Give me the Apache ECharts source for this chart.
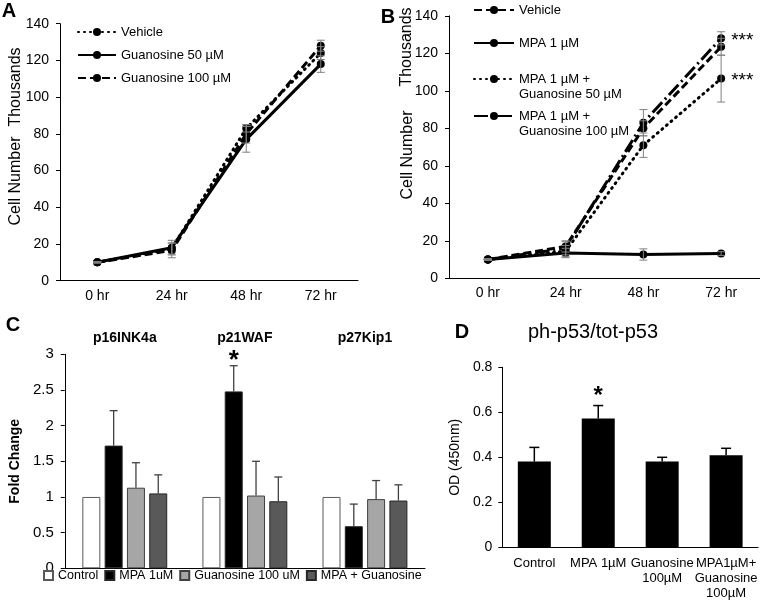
<!DOCTYPE html>
<html>
<head>
<meta charset="utf-8">
<script src="https://cdn.jsdelivr.net/npm/echarts@6/dist/echarts.min.js"></script>
<style>
  body { margin: 0; background: #fff; }
  #wrap { position: relative; width: 760px; height: 601px; overflow: hidden; }
  .panel { position: absolute; }
</style>
</head>
<body>
<div id="wrap">
  <div id="chartA" class="panel" style="left:0;top:0;width:380px;height:310px"></div>
  <div id="chartB" class="panel" style="left:380px;top:0;width:380px;height:310px"></div>
  <div id="chartC" class="panel" style="left:0;top:310px;width:440px;height:291px"></div>
  <div id="chartD" class="panel" style="left:440px;top:310px;width:320px;height:291px"></div>
</div>
<script>
var FONT = '"Liberation Sans", Arial, sans-serif';

/* A, B: time points */
var hours = ['0 hr', '24 hr', '48 hr', '72 hr'];

/* A: cell number (thousands) */
var vehA = [10, 17.5, 83, 124];
var vehAErr = [0.3, 3, 2, 3.5];
var guan50A = [10, 18, 77, 118];
var guan50AErr = [0.3, 4, 7, 4.5];
var guan100A = [10, 16.5, 80, 128];
var guan100AErr = [0.3, 4, 5, 3];

/* B: cell number (thousands) */
var vehB = [10, 17, 80, 123.5];
var vehBErr = [0.3, 3, 4, 4.5];
var mpaB = [10, 13.5, 12.7, 13.2];
var mpaBErr = [0.3, 2.5, 3, 1];
var mpaG50B = [10, 14.5, 71, 106.5];
var mpaG50BErr = [0.3, 3, 6.5, 12.5];
var mpaG100B = [10, 16, 83, 128];
var mpaG100BErr = [0.3, 3.5, 7, 3.5];

/* C: fold change */
var genes = ['p16INK4a', 'p21WAF', 'p27Kip1'];
var cControl = [1, 1, 1];
var cMPA = [1.72, 2.48, 0.59];
var cMPAErr = [0.49, 0.36, 0.31];
var cGuan = [1.13, 1.02, 0.97];
var cGuanErr = [0.35, 0.48, 0.26];
var cBoth = [1.05, 0.94, 0.95];
var cBothErr = [0.26, 0.34, 0.22];

/* D: ph-p53/tot-p53 */
var dGroups = ['Control', 'MPA 1µM', 'Guanosine\n100µM', 'MPA1µM+\nGuanosine\n100µM'];
var dOD = [0.381, 0.572, 0.381, 0.409];
var dODErr = [0.063, 0.058, 0.019, 0.031];

/* 误差线(custom系列) */
function errorSeries(means, errs, opt) {
  return {
    type: 'custom',
    silent: true,
    z: opt.z || 5,
    encode: { x: 0, y: 1 },
    renderItem: function (params, api) {
      var i = api.value(0), m = api.value(1), e = api.value(2);
      var c = api.coord([i, m]);
      var hi = api.coord([i, m + e]);
      var lo = opt.both ? api.coord([i, m - e]) : c;
      var x = c[0] + (opt.offset || 0), w = opt.cap;
      function st() { return { stroke: opt.color, lineWidth: opt.width }; }
      var kids = [
        { type: 'line', shape: { x1: x, y1: hi[1], x2: x, y2: lo[1] }, style: st() },
        { type: 'line', shape: { x1: x - w, y1: hi[1], x2: x + w, y2: hi[1] }, style: st() }
      ];
      if (opt.both) {
        kids.push({ type: 'line', shape: { x1: x - w, y1: lo[1], x2: x + w, y2: lo[1] }, style: st() });
      }
      return { type: 'group', children: kids };
    },
    data: means.map(function (m, i) { return [i, m, errs[i]]; })
  };
}

/* 折线系列 */
function lineSeries(name, data, dash, cap, starAt) {
  return {
    name: name,
    type: 'line',
    z: 3,
    symbol: 'circle',
    symbolSize: 8,
    itemStyle: { color: '#000' },
    lineStyle: { color: '#000', width: 3, type: dash, cap: cap || 'butt' },
    data: data.map(function (v, i) {
      if (i === starAt) {
        return { value: v, label: { show: true, position: 'right', distance: 6, offset: [0, 2],
          formatter: '***', fontSize: 19, color: '#000', fontFamily: FONT } };
      }
      return v;
    })
  };
}

/* 每个图例单独定位, centerY为图标中心 */
function legendItem(name, left, centerY, width) {
  var lines = name.split('\n').length;
  return {
    left: left, top: centerY - (lines > 1 ? 22.5 : 7.5), padding: 0,
    itemWidth: width, itemHeight: 10,
    textStyle: { color: '#000', fontSize: 13, fontFamily: FONT, lineHeight: 15 },
    formatter: function (n) { return lines > 1 ? ' \n' + n : n; },
    data: [name]
  };
}

function txt(x, y, text, size, bold, rot) {
  return { type: 'text', x: x, y: y, rotation: rot || 0, silent: true,
    style: { text: text, fontSize: size, fontWeight: bold ? 'bold' : 'normal', fontFamily: FONT,
      fill: '#000', align: 'center', verticalAlign: 'middle' } };
}

function timeAxis() {
  return {
    type: 'category', data: hours, boundaryGap: true,
    axisLine: { lineStyle: { color: '#000', width: 1 } },
    axisTick: { show: false },
    axisLabel: { color: '#000', fontSize: 14, fontFamily: FONT, margin: 8 }
  };
}

function valueAxis(max, step, size, margin) {
  return {
    type: 'value', min: 0, max: max, interval: step,
    splitLine: { show: false },
    axisLine: { show: true, lineStyle: { color: '#000', width: 1 } },
    axisTick: { show: true, length: 4, lineStyle: { color: '#000' } },
    axisLabel: { color: '#000', fontSize: size, fontFamily: FONT, margin: margin }
  };
}

/* ---------- A ---------- */
var namesA = ['Vehicle', 'Guanosine 50 µM', 'Guanosine 100 µM'];
var legendYA = [32, 55, 78];
var chartA = echarts.init(document.getElementById('chartA'));
chartA.setOption({
  animation: false,
  grid: { left: 60, top: 23.7, width: 298, height: 257 },
  xAxis: timeAxis(),
  yAxis: valueAxis(140, 20, 14, 11),
  legend: namesA.map(function (n, i) { return legendItem(n, 77, legendYA[i], 38); }),
  graphic: [
    txt(9, 11, 'A', 20, true),
    txt(16, 87, 'Thousands', 16, false, Math.PI / 2),
    txt(16, 181, 'Cell Number', 16, false, Math.PI / 2)
  ],
  series: [
    lineSeries(namesA[0], vehA, [1, 5], 'round'),
    lineSeries(namesA[1], guan50A, 'solid'),
    lineSeries(namesA[2], guan100A, [8, 4]),
    errorSeries(vehA, vehAErr, { both: true, cap: 4, color: '#808080', width: 1 }),
    errorSeries(guan50A, guan50AErr, { both: true, cap: 4, color: '#808080', width: 1 }),
    errorSeries(guan100A, guan100AErr, { both: true, cap: 4, color: '#808080', width: 1 })
  ]
});

/* ---------- B ---------- */
var namesB = ['Vehicle', 'MPA 1 µM', 'MPA 1 µM +\nGuanosine 50 µM', 'MPA 1 µM +\nGuanosine 100 µM'];
var legendYB = [10, 43, 79, 116];
var chartB = echarts.init(document.getElementById('chartB'));
chartB.setOption({
  animation: false,
  grid: { left: 69, top: 15.8, width: 313, height: 262.5 },
  xAxis: timeAxis(),
  yAxis: valueAxis(140, 20, 14, 11),
  legend: namesB.map(function (n, i) { return legendItem(n, 93, legendYB[i], 40); }),
  graphic: [
    txt(8, 17, 'B', 20, true),
    txt(27, 47, 'Thousands', 16, false, Math.PI / 2),
    txt(28, 155, 'Cell Number', 16, false, Math.PI / 2)
  ],
  series: [
    lineSeries(namesB[0], vehB, [8, 4]),
    lineSeries(namesB[1], mpaB, 'solid'),
    lineSeries(namesB[2], mpaG50B, [1, 5], 'round', 3),
    lineSeries(namesB[3], mpaG100B, [14, 4, 2, 4], 'butt', 3),
    errorSeries(vehB, vehBErr, { both: true, cap: 4, color: '#808080', width: 1 }),
    errorSeries(mpaB, mpaBErr, { both: true, cap: 4, color: '#808080', width: 1 }),
    errorSeries(mpaG50B, mpaG50BErr, { both: true, cap: 4, color: '#808080', width: 1 }),
    errorSeries(mpaG100B, mpaG100BErr, { both: true, cap: 4, color: '#808080', width: 1 })
  ]
});

/* ---------- C ---------- */
var barW = 18, barGapPx = 4.3;
function offsetC(k) { return (k - 1.5) * (barW + barGapPx); }
function barSeries(name, data, color, border, starAt) {
  return {
    name: name, type: 'bar', barWidth: barW, barGap: (barGapPx / barW * 100) + '%',
    itemStyle: { color: color, borderColor: border, borderWidth: 1 },
    data: data.map(function (v, i) {
      if (i === starAt) {
        return { value: v, label: { show: true, position: 'top', distance: 18, formatter: '*',
          fontSize: 26, fontWeight: 'bold', color: '#000', fontFamily: FONT } };
      }
      return v;
    })
  };
}
var chartC = echarts.init(document.getElementById('chartC'));
var yC = valueAxis(3, 0.5, 15, 11);
yC.name = 'Fold Change';
yC.nameLocation = 'middle';
yC.nameGap = 34;
yC.nameTextStyle = { color: '#000', fontSize: 14, fontWeight: 'bold', fontFamily: FONT };
chartC.setOption({
  animation: false,
  grid: { left: 54.3, top: 44.3, width: 370.7, height: 214 },
  xAxis: [
    { type: 'category', data: genes,
      axisLine: { lineStyle: { color: '#000', width: 1 } },
      axisTick: { show: false }, axisLabel: { show: false } },
    { type: 'category', data: genes, position: 'top',
      axisLine: { show: false }, axisTick: { show: false },
      axisLabel: { color: '#000', fontSize: 14, fontWeight: 'bold', fontFamily: FONT, margin: 9 } }
  ],
  yAxis: yC,
  legend: {
    left: 43, top: 259, padding: 0, itemGap: 6, itemWidth: 9, itemHeight: 9, icon: 'rect',
    textStyle: { color: '#000', fontSize: 12.5, fontFamily: FONT },
    data: ['Control', 'MPA 1uM', 'Guanosine 100 uM', 'MPA + Guanosine']
  },
  graphic: [txt(13, 15, 'C', 20, true)],
  series: [
    barSeries('Control', cControl, '#ffffff', '#595959'),
    barSeries('MPA 1uM', cMPA, '#000000', '#262626', 1),
    barSeries('Guanosine 100 uM', cGuan, '#a6a6a6', '#404040'),
    barSeries('MPA + Guanosine', cBoth, '#595959', '#262626'),
    errorSeries(cMPA, cMPAErr, { offset: offsetC(1), cap: 4, color: '#404040', width: 1.3 }),
    errorSeries(cGuan, cGuanErr, { offset: offsetC(2), cap: 4, color: '#404040', width: 1.3 }),
    errorSeries(cBoth, cBothErr, { offset: offsetC(3), cap: 4, color: '#404040', width: 1.3 })
  ]
});

/* ---------- D ---------- */
var chartD = echarts.init(document.getElementById('chartD'));
var yD = valueAxis(0.8, 0.2, 14, 10);
yD.name = 'OD (450nm)';
yD.nameLocation = 'middle';
yD.nameGap = 33;
yD.nameTextStyle = { color: '#000', fontSize: 14, fontFamily: FONT };
chartD.setOption({
  animation: false,
  grid: { left: 58.3, top: 57.3, width: 260, height: 180 },
  xAxis: {
    type: 'category', data: dGroups,
    axisLine: { lineStyle: { color: '#000', width: 1 } },
    axisTick: { show: false },
    axisLabel: { color: '#000', fontSize: 13, lineHeight: 15, fontFamily: FONT, margin: 8.5, interval: 0 }
  },
  yAxis: yD,
  graphic: [
    txt(22, 22, 'D', 20, true),
    txt(153, 22, 'ph-p53/tot-p53', 20, false)
  ],
  series: [
    {
      name: 'OD', type: 'bar', barWidth: 33,
      itemStyle: { color: '#000' },
      data: dOD.map(function (v, i) {
        if (i === 1) {
          return { value: v, label: { show: true, position: 'top', distance: 10, formatter: '*',
            fontSize: 24, fontWeight: 'bold', color: '#000', fontFamily: FONT } };
        }
        return v;
      })
    },
    errorSeries(dOD, dODErr, { cap: 5, color: '#000', width: 1.5 })
  ]
});
</script>
</body>
</html>
